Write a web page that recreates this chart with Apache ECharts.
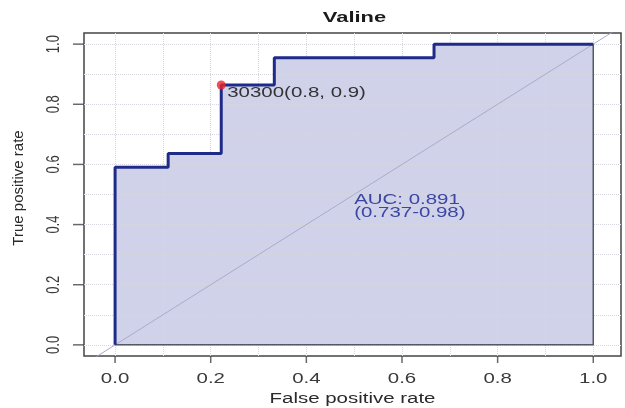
<!DOCTYPE html>
<html>
<head>
<meta charset="utf-8">
<script src="https://cdn.jsdelivr.net/npm/echarts@6/dist/echarts.min.js"></script>
<style>
  html, body { margin: 0; padding: 0; background: #fff; }
  #roc { width: 625px; height: 408px; }
</style>
</head>
<body>
<div id="roc"></div>
<script>
  // ROC 曲线数据
  var fprValues = [0, 0, 0.111, 0.111, 0.222, 0.222, 0.333, 0.333, 0.667, 0.667, 1];
  var tprValues = [0, 0.591, 0.591, 0.636, 0.636, 0.864, 0.864, 0.955, 0.955, 1, 1];
  var tickLabels = [0, 0.2, 0.4, 0.6, 0.8, 1.0];
  var gridValues = [0, 0.1, 0.2, 0.3, 0.4, 0.5, 0.6, 0.7, 0.8, 0.9, 1.0];
  var bestPoint = [0.222, 0.864];
  var bestLabel = '30300(0.8, 0.9)';
  var aucPos = [0.5, 0.48];
  var aucText = ['AUC: 0.891', '(0.737-0.98)'];

  var X_MIN = -0.065, X_MAX = 1.058, Y_MIN = -0.037, Y_MAX = 1.037;
  var curve = fprValues.map(function (x, i) { return [x, tprValues[i]]; });
  var FONT = 'Liberation Sans';
  var STRETCH = 1.46; // 原图文字横向被拉宽

  var myChart = echarts.init(document.getElementById('roc'));
  myChart.setOption({
    animation: false,
    grid: {
      left: 84, right: 4, top: 33, bottom: 52,
      show: true, borderColor: '#444', borderWidth: 1.5, backgroundColor: '#fff'
    },
    xAxis: {
      type: 'value', min: X_MIN, max: X_MAX,
      axisLine: { show: false, onZero: false },
      axisTick: { show: false },
      axisLabel: { show: false },
      splitLine: { show: false }
    },
    yAxis: {
      type: 'value', min: Y_MIN, max: Y_MAX,
      axisLine: { show: false, onZero: false },
      axisTick: { show: false },
      axisLabel: { show: false },
      splitLine: { show: false }
    },
    series: [
      {
        // 填充区域
        type: 'line', data: curve, symbol: 'none', z: 1,
        lineStyle: { width: 0 },
        areaStyle: { color: '#d0d2ea', opacity: 1 }
      },
      {
        // 网格线
        type: 'line', data: [], z: 2,
        markLine: {
          z: 2, silent: true, symbol: 'none', label: { show: false },
          lineStyle: { type: 'dotted', color: '#d6d6e0', width: 1 },
          data: gridValues.map(function (v) { return { xAxis: v }; })
            .concat(gridValues.map(function (v) { return { yAxis: v }; }))
        }
      },
      {
        // 对角线
        type: 'line', data: [[-0.2, -0.2], [1.2, 1.2]], symbol: 'none', z: 3, clip: true,
        lineStyle: { color: '#a9abcb', width: 1 }
      },
      {
        // 多边形边框
        type: 'line', data: [[1, 1], [1, 0], [0, 0]], symbol: 'none', z: 3,
        lineStyle: { color: '#555866', width: 1.5 }
      },
      {
        type: 'line', data: curve, symbol: 'none', z: 4,
        lineStyle: { color: '#1f2b88', width: 3 }
      },
      {
        type: 'scatter', data: [bestPoint], z: 5, symbolSize: 9,
        itemStyle: { color: '#e8262c' }
      },
      {
        // x 轴刻度
        type: 'scatter', clip: false, silent: true, z: 6,
        data: tickLabels.map(function (v) { return [v, Y_MIN]; }),
        symbol: 'rect', symbolSize: [1.5, 7], symbolOffset: [0, 3.5],
        itemStyle: { color: '#444' }
      },
      {
        // y 轴刻度
        type: 'scatter', clip: false, silent: true, z: 6,
        data: tickLabels.map(function (v) { return [X_MIN, v]; }),
        symbol: 'rect', symbolSize: [11, 1.5], symbolOffset: [-5.5, 0],
        itemStyle: { color: '#444' }
      }
    ]
  });

  // 文字（横向拉伸，位置由坐标轴换算）
  function px(pt) { return myChart.convertToPixel({ gridIndex: 0 }, pt); }
  function txt(s, x, y, opt) {
    opt = opt || {};
    return {
      type: 'text', x: x, y: y, z: 10,
      rotation: opt.rotation || 0,
      scaleX: opt.scaleX || 1, scaleY: opt.scaleY || 1,
      style: {
        text: s, fill: opt.color || '#333',
        font: (opt.weight || 'normal') + ' ' + (opt.size || 14) + 'px "' + FONT + '"',
        align: opt.align || 'center', textAlign: opt.align || 'center',
        verticalAlign: 'middle', textVerticalAlign: 'middle'
      }
    };
  }

  var items = [];
  var tl = px([X_MIN, Y_MAX]), br = px([X_MAX, Y_MIN]);
  var midX = (tl[0] + br[0]) / 2;
  items.push(txt('Valine', midX + 2, 18, { size: 15, weight: 'bold', scaleX: STRETCH, color: '#1a1a1a' }));
  tickLabels.forEach(function (v) {
    var p = px([v, 0]);
    items.push(txt(v.toFixed(1), p[0], 379, { size: 14, scaleX: STRETCH, color: '#3a3a3a' }));
    var q = px([0, v]);
    items.push(txt(v.toFixed(1), 54, q[1], { size: 13, rotation: Math.PI / 2, scaleY: STRETCH, color: '#3a3a3a' }));
  });
  items.push(txt('False positive rate', midX, 399, { size: 14, scaleX: STRETCH, color: '#2a2a2a' }));
  items.push(txt('True positive rate', 19, 188, { size: 15, rotation: Math.PI / 2, color: '#2a2a2a' }));

  var bp = px(bestPoint);
  items.push(txt(bestLabel, bp[0] + 6, bp[1] + 8, { size: 14, align: 'left', scaleX: STRETCH, color: '#333' }));
  var ap = px(aucPos);
  items.push(txt(aucText[0], ap[0], ap[1], { size: 14, align: 'left', scaleX: STRETCH, color: '#3b46a0' }));
  items.push(txt(aucText[1], ap[0], ap[1] + 13, { size: 14, align: 'left', scaleX: STRETCH, color: '#3b46a0' }));

  myChart.setOption({ graphic: items });
</script>
</body>
</html>
